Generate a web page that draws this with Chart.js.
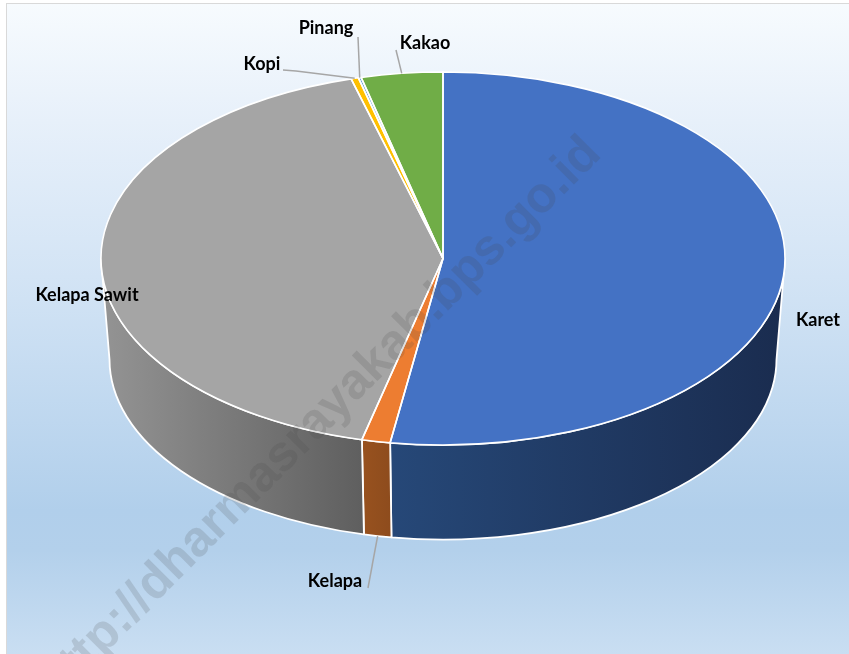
<!DOCTYPE html>
<html>
<head>
<meta charset="utf-8">
<title>Pie</title>
<script src="https://cdn.jsdelivr.net/npm/chart.js@4"></script>
<style>
  html, body { margin: 0; padding: 0; background: #fff; overflow: hidden; }
  #frame {
    position: absolute; left: 6px; top: 3px; width: 843px; height: 651px;
    box-sizing: border-box; border: 1px solid #d9d9d9; border-right: 0; border-bottom: 0;
    background: linear-gradient(180deg, #f7fbfe 0%, #e7f0fa 18%, #d3e4f5 42%, #b1cfeb 78%, #b3d0eb 84%, #c9def2 100%);
  }
  canvas { position: absolute; left: 0; top: 0; }
</style>
</head>
<body>
<div id="frame"></div>
<canvas id="chart" width="849" height="654"></canvas>
<script>
// data
const categories = ["Karet", "Kelapa", "Kelapa Sawit", "Kopi", "Pinang", "Kakao"];
const shares = [52.47, 1.34, 41.86, 0.35, 0.13, 3.85];
const faceColors = ["#4472C4", "#ED7D31", "#A5A5A5", "#FFC000", "#5B9BD5", "#70AD47"];
const sideLeft = ["#264878", "#98521f", "#949494", "#997300", "#376092", "#43682b"];
const sideRight = ["#1a2c4f", "#8e4c1d", "#5f5f5f", "#997300", "#376092", "#43682b"];

// where the labels sit, and where their leader lines stop
const labelX = [818, 335, 87, 262, 326, 425];
const labelY = [320, 581, 295, 64, 28, 43];
const leaderEnd = [null, [368, 588], null, [283, 70], [358, 37], [396, 50]];

// pseudo 3D geometry
const radiusX = 342, radiusY = 186.5;
const bottomRadiusX = 333.5, bottomRadiusY = 180, bottomDrop = 101;

const watermark = "http://dharmasrayakab.bps.go.id";

function topPoint(c, a) {
  return [c.x + radiusX * Math.cos(a), c.y + radiusY * Math.sin(a)];
}
function bottomPoint(c, a) {
  return [c.x + bottomRadiusX * Math.cos(a), c.y + bottomDrop + bottomRadiusY * Math.sin(a)];
}

const pie3d = {
  id: "pie3d",
  beforeDatasetsDraw(chart) {
    const ctx = chart.ctx;
    const arcs = chart.getDatasetMeta(0).data;
    const c = arcs[0];

    // side walls, only the front half of the cylinder shows
    arcs.forEach((arc, i) => {
      let from = arc.startAngle, to = arc.endAngle;
      const pts = [];
      [[from, to]].concat([[from - Math.PI * 2, to - Math.PI * 2]]).forEach(([s, e]) => {
        const a0 = Math.max(s, 0), a1 = Math.min(e, Math.PI);
        if (a1 > a0) { pts.push([a0, a1]); }
      });
      if (!pts.length) return;
      const [a0, a1] = pts[0];
      const grad = ctx.createLinearGradient(c.x + radiusX * Math.cos(a0) , 0, c.x + radiusX * Math.cos(a1), 0);
      grad.addColorStop(0, sideRight[i]);
      grad.addColorStop(1, sideLeft[i]);
      ctx.save();
      ctx.beginPath();
      ctx.ellipse(c.x, c.y, radiusX, radiusY, 0, a0, a1);
      ctx.ellipse(c.x, c.y + bottomDrop, bottomRadiusX, bottomRadiusY, 0, a1, a0, true);
      ctx.closePath();
      ctx.fillStyle = grad;
      ctx.fill();
      ctx.strokeStyle = "#fff";
      ctx.lineWidth = 1.8;
      ctx.lineJoin = "round";
      ctx.stroke();
      ctx.restore();
    });

    // squash the round pie the library draws into the top face
    ctx.save();
    ctx.translate(c.x, c.y);
    ctx.scale(1, radiusY / radiusX);
    ctx.translate(-c.x, -c.y);
  },
  afterDatasetsDraw(chart) {
    const ctx = chart.ctx;
    ctx.restore();
    const arcs = chart.getDatasetMeta(0).data;
    const c = arcs[0];

    // outlines of the top face
    arcs.forEach(arc => {
      ctx.beginPath();
      ctx.moveTo(c.x, c.y);
      ctx.ellipse(c.x, c.y, radiusX, radiusY, 0, arc.startAngle, arc.endAngle);
      ctx.closePath();
      ctx.strokeStyle = "#fff";
      ctx.lineWidth = 1.6;
      ctx.lineJoin = "round";
      ctx.stroke();
    });

    // leader lines
    arcs.forEach((arc, i) => {
      if (!leaderEnd[i]) return;
      const mid = (arc.startAngle + arc.endAngle) / 2;
      const sin = Math.sin(mid);
      const p = sin > 0 ? bottomPoint(c, mid) : topPoint(c, mid);
      ctx.beginPath();
      ctx.moveTo(p[0], p[1]);
      if (categories[i] === "Kopi") ctx.lineTo(296, 71);
      ctx.lineTo(leaderEnd[i][0], leaderEnd[i][1]);
      ctx.strokeStyle = "#a6a6a6";
      ctx.lineWidth = 1.5;
      ctx.stroke();
    });

    // labels
    ctx.font = "bold 18px Lato";
    ctx.fillStyle = "#000";
    ctx.textAlign = "center";
    ctx.textBaseline = "middle";
    categories.forEach((name, i) => ctx.fillText(name, labelX[i], labelY[i]));
  },
  afterDraw(chart) {
    const ctx = chart.ctx;
    ctx.save();
    ctx.translate(47, 692);
    ctx.rotate(-Math.PI / 4);
    ctx.font = "bold 50px 'Liberation Sans'";
    ctx.fillStyle = "rgba(70,70,70,0.17)";
    ctx.textAlign = "left";
    ctx.textBaseline = "middle";
    ctx.fillText(watermark, 0, 0);
    ctx.restore();
  }
};

new Chart(document.getElementById("chart"), {
  type: "pie",
  data: {
    labels: categories,
    datasets: [{
      data: shares,
      backgroundColor: faceColors,
      borderWidth: 0,
      clip: false
    }]
  },
  options: {
    responsive: false,
    animation: false,
    radius: radiusX,
    layout: { padding: { left: 37, bottom: 137 } },
    plugins: { legend: { display: false }, tooltip: { enabled: false } }
  },
  plugins: [pie3d]
});
</script>
</body>
</html>
